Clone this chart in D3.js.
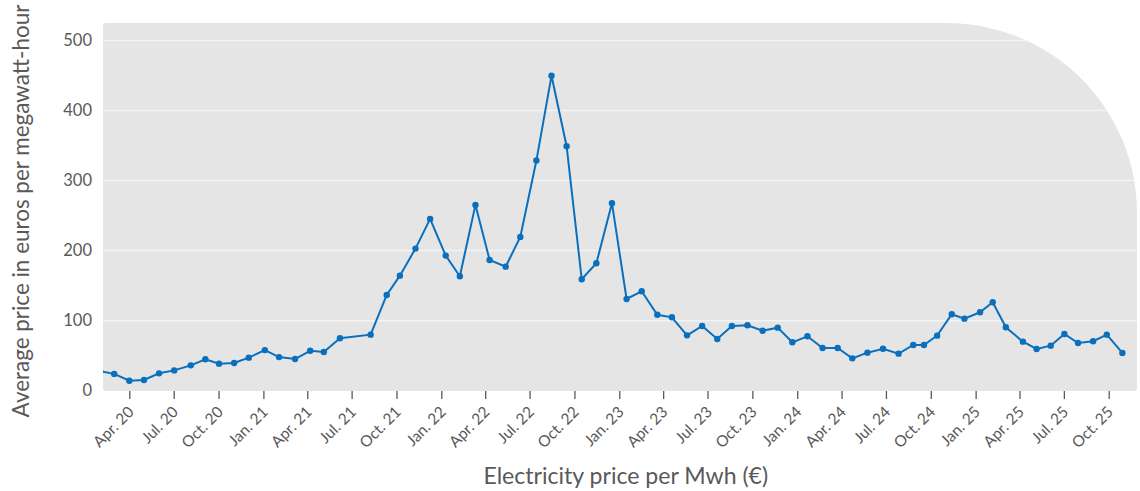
<!DOCTYPE html>
<html><head><meta charset="utf-8">
<script src="https://cdn.jsdelivr.net/npm/d3@7"></script>
<style>
body{margin:0;background:#fff;}
svg text{font-family:Lato,"Open Sans",sans-serif;fill:#595959;}
</style>
</head><body><svg id="c" width="1140" height="491"></svg>
<script>
const dates = ["2020-02-01","2020-03-01","2020-04-01","2020-05-01","2020-06-01","2020-07-02","2020-08-05","2020-09-04","2020-10-02","2020-11-02","2020-12-02",
"2021-01-04","2021-02-02","2021-03-07","2021-04-07","2021-05-05","2021-06-07","2021-08-09","2021-09-11","2021-10-08","2021-11-09","2021-12-09",
"2022-01-10","2022-02-08","2022-03-12","2022-04-10","2022-05-13","2022-06-12","2022-07-15","2022-08-15","2022-09-15","2022-10-16","2022-11-15","2022-12-17",
"2023-01-16","2023-02-16","2023-03-20","2023-04-19","2023-05-20","2023-06-20","2023-07-21","2023-08-20","2023-09-21","2023-10-22","2023-11-22","2023-12-22",
"2024-01-22","2024-02-22","2024-03-24","2024-04-23","2024-05-24","2024-06-25","2024-07-27","2024-08-26","2024-09-17","2024-10-14","2024-11-13","2024-12-09",
"2025-01-10","2025-02-05","2025-03-04","2025-04-08","2025-05-06","2025-06-04","2025-07-02","2025-07-30","2025-08-30","2025-09-27","2025-10-29"];
const prices = [28,24,14.3,15.3,24.8,29,36.2,44.8,38.6,39.5,47.2,
58,48,45.2,57,55.3,74.8,80,136.7,164.3,202.9,245.3,
192.9,163.4,265.3,186.7,177.1,219.6,328.6,449.6,349.1,159.1,182,267.7,
131,142,108.4,104.8,79,92.4,73.9,92.4,93.4,85.7,90,69.1,
77.7,61,61,46.2,54.3,60,52.9,65.3,65.3,78.6,109.1,102.9,
112,126.3,90.6,70,59.6,64.3,81,68.1,70.6,80,53.9];
const xTickDates = ["2020-04-01","2020-07-01","2020-10-01","2021-01-01","2021-04-01","2021-07-01","2021-10-01","2022-01-01","2022-04-01","2022-07-01","2022-10-01",
"2023-01-01","2023-04-01","2023-07-01","2023-10-01","2024-01-01","2024-04-01","2024-07-01","2024-10-01","2025-01-01","2025-04-01","2025-07-01","2025-10-01"];
const xTickLabels = ["Apr. 20","Jul. 20","Oct. 20","Jan. 21","Apr. 21","Jul. 21","Oct. 21","Jan. 22","Apr. 22","Jul. 22","Oct. 22",
"Jan. 23","Apr. 23","Jul. 23","Oct. 23","Jan. 24","Apr. 24","Jul. 24","Oct. 24","Jan. 25","Apr. 25","Jul. 25","Oct. 25"];
const yTicks = [0,100,200,300,400,500];
const xTitle = "Electricity price per Mwh (€)";
const yTitle = "Average price in euros per megawatt-hour";

const parse = d3.utcParse("%Y-%m-%d");
const data = dates.map((d,i)=>({date:parse(d), value:prices[i]}));

const L=103, R=1137, T=23, B=391;
const x = d3.scaleUtc().domain([parse("2020-02-07"), parse("2025-11-28")]).range([L,R]);
const y = d3.scaleLinear().domain([0,525]).range([390.7,T]);

const svg = d3.select("#c");
const rad = 190;
const panelPath = `M${L},${T+3} Q${L},${T} ${L+3},${T} H${R-rad} A${rad},${rad} 0 0 1 ${R},${T+rad} V${B-3} Q${R},${B} ${R-3},${B} H${L+3} Q${L},${B} ${L},${B-3} Z`;
svg.append("defs").append("clipPath").attr("id","clip").append("path").attr("d",panelPath);
svg.append("path").attr("d",panelPath).attr("fill","#e5e5e5");

const g = svg.append("g").attr("clip-path","url(#clip)");
g.selectAll("line.grid").data(yTicks.filter(v=>v>0)).join("line")
  .attr("x1",L).attr("x2",R).attr("y1",d=>y(d)).attr("y2",d=>y(d))
  .attr("stroke","#f4f4f4").attr("stroke-width",1.5);

const line = d3.line().x(d=>x(d.date)).y(d=>y(d.value));
g.append("path").datum(data).attr("d",line).attr("fill","none").attr("stroke","#0a6fbd").attr("stroke-width",2);
g.selectAll("circle").data(data).join("circle").attr("cx",d=>x(d.date)).attr("cy",d=>y(d.value)).attr("r",3.2).attr("fill","#0a6fbd");

// y axis labels
const yAxis = d3.axisLeft(y).tickValues(yTicks).tickSize(0).tickPadding(0);
const ya = svg.append("g").attr("transform",`translate(92,0)`).call(yAxis);
ya.select(".domain").remove();
ya.selectAll("text").attr("font-size",16.5).attr("fill","#595959").style("font-family","Lato, 'Open Sans', sans-serif");

// x axis
const xAxis = d3.axisBottom(x).tickValues(xTickDates.map(parse)).tickFormat((d,i)=>xTickLabels[i]).tickSize(8).tickSizeOuter(0);
const xa = svg.append("g").attr("transform",`translate(0,${B})`).call(xAxis);
xa.select(".domain").remove();
xa.selectAll(".tick line").attr("stroke","#595959").attr("stroke-width",1.3);
xa.selectAll("text").attr("font-size",15.5).attr("fill","#595959").style("font-family","Lato, 'Open Sans', sans-serif")
  .attr("text-anchor","end").attr("y",0).attr("dy",0)
  .attr("transform","translate(5,22) rotate(-45)");

function fit(sel, target){
  const w = sel.node().getComputedTextLength();
  const fs = parseFloat(sel.attr("font-size"));
  sel.attr("font-size", fs*target/w);
}
const xt = svg.append("text").attr("x",625.8).attr("y",484).attr("text-anchor","middle").attr("font-size",20).text(xTitle);
fit(xt,285);
const yt = svg.append("text").attr("transform","translate(29,211) rotate(-90)").attr("text-anchor","middle").attr("font-size",20).text(yTitle);
fit(yt,413);
</script>
</body></html>
